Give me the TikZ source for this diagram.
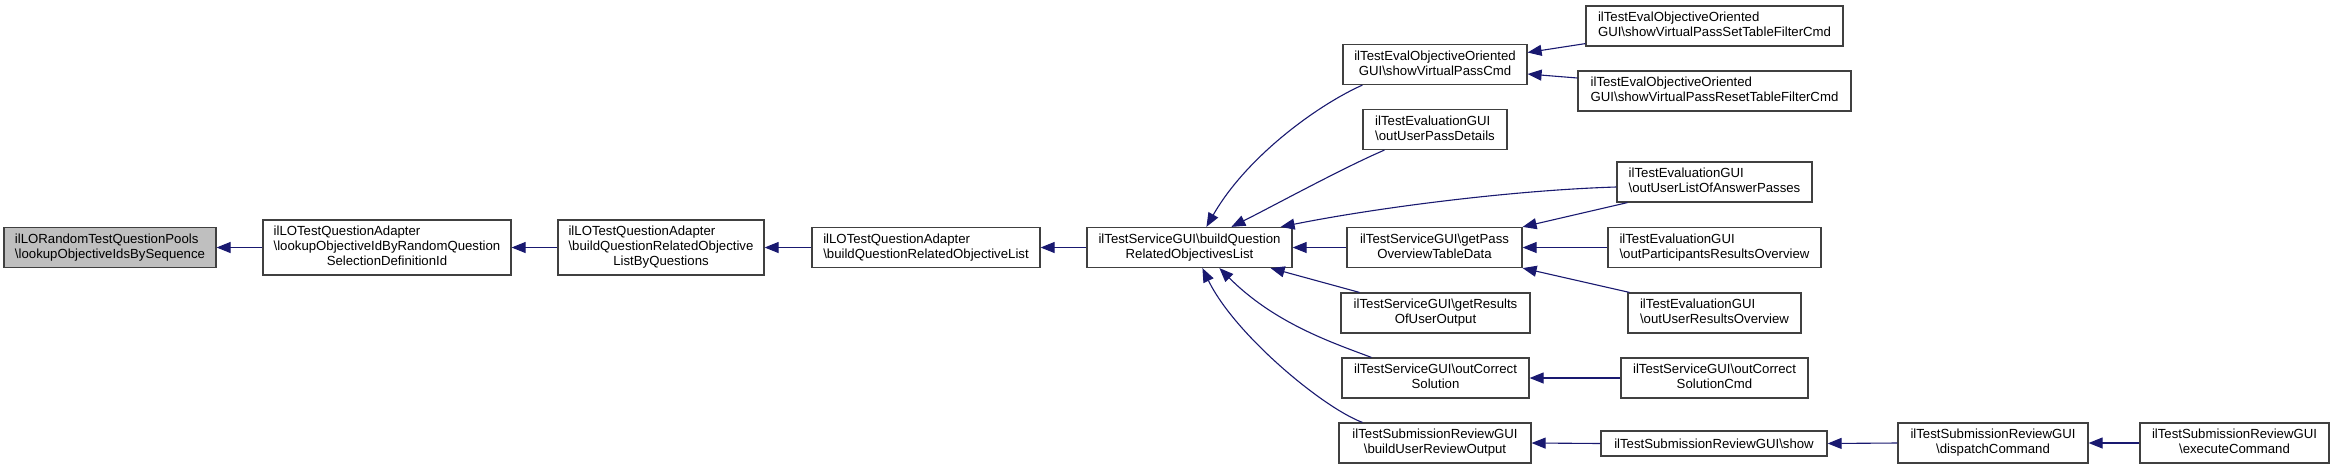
\documentclass[tikz,border=0pt]{standalone}
\usepackage{fontspec}
\setmainfont{Liberation Sans}
\usetikzlibrary{arrows.meta,calc}
\definecolor{edgeblue}{HTML}{191970}
\definecolor{boxline}{HTML}{404040}
\definecolor{nodegray}{HTML}{BFBFBF}
\newcommand\mybs{\textbackslash}
\newcommand\mytwo[2]{\begin{tabular}{@{}l@{}}#1\\\multicolumn{1}{@{}c@{}}{#2}\end{tabular}}
\newcommand\mythree[3]{\begin{tabular}{@{}l@{}}#1\\#2\\\multicolumn{1}{@{}c@{}}{#3}\end{tabular}}
\begin{document}
\begin{tikzpicture}[x=1pt,y=-1pt,
  box/.style={draw=boxline, line width=1.2pt, fill=white, inner sep=0pt,
    minimum height=40pt, font=\fontsize{13.2}{15}\selectfont},
  edge/.style={draw=edgeblue, line width=1.1pt, -{Triangle[length=14pt,width=11pt]}}]
\fill[white] (0,0) rectangle (2333,469);
\useasboundingbox (0,0) rectangle (2333,469);
% column 0-4
\node[box, fill=nodegray, minimum width=212pt] (n0) at (110,247.5) {\mytwo{ilLORandomTestQuestionPools}{\mybs lookupObjectiveIdsBySequence}};
\node[box, minimum width=248pt, minimum height=55pt] (n1) at (387,247.5) {\mythree{ilLOTestQuestionAdapter}{\mybs lookupObjectiveIdByRandomQuestion}{SelectionDefinitionId}};
\node[box, minimum width=206pt, minimum height=55pt] (n2) at (661,247.5) {\mythree{ilLOTestQuestionAdapter}{\mybs buildQuestionRelatedObjective}{ListByQuestions}};
\node[box, minimum width=228pt] (n3) at (926,247.5) {\mytwo{ilLOTestQuestionAdapter}{\mybs buildQuestionRelatedObjectiveList}};
\node[box, minimum width=205pt] (n4) at (1189.5,247.5) {\mytwo{ilTestServiceGUI\mybs buildQuestion}{RelatedObjectivesList}};
% column 5
\node[box, minimum width=184pt] (n5) at (1435,64.5) {\mytwo{ilTestEvalObjectiveOriented}{GUI\mybs showVirtualPassCmd}};
\node[box, minimum width=144pt] (n6) at (1435,129.5) {\mytwo{ilTestEvaluationGUI}{\mybs outUserPassDetails}};
\node[box, minimum width=175pt] (n7) at (1434.5,247.5) {\mytwo{ilTestServiceGUI\mybs getPass}{OverviewTableData}};
\node[box, minimum width=189pt] (n8) at (1435.5,313) {\mytwo{ilTestServiceGUI\mybs getResults}{OfUserOutput}};
\node[box, minimum width=187pt] (n9) at (1435.5,378) {\mytwo{ilTestServiceGUI\mybs outCorrect}{Solution}};
\node[box, minimum width=192pt] (n10) at (1435,443) {\mytwo{ilTestSubmissionReviewGUI}{\mybs buildUserReviewOutput}};
% column 6
\node[box, minimum width=257pt] (n11) at (1714.5,26) {\mytwo{ilTestEvalObjectiveOriented}{GUI\mybs showVirtualPassSetTableFilterCmd}};
\node[box, minimum width=273pt] (n12) at (1714.5,91) {\mytwo{ilTestEvalObjectiveOriented}{GUI\mybs showVirtualPassResetTableFilterCmd}};
\node[box, minimum width=195pt] (n13) at (1714.5,182) {\mytwo{ilTestEvaluationGUI}{\mybs outUserListOfAnswerPasses}};
\node[box, minimum width=213pt] (n14) at (1714.5,247.5) {\mytwo{ilTestEvaluationGUI}{\mybs outParticipantsResultsOverview}};
\node[box, minimum width=173pt] (n15) at (1714.5,313) {\mytwo{ilTestEvaluationGUI}{\mybs outUserResultsOverview}};
\node[box, minimum width=187pt] (n16) at (1714.5,378) {\mytwo{ilTestServiceGUI\mybs outCorrect}{SolutionCmd}};
\node[box, minimum width=226pt, minimum height=25pt] (n17) at (1714,443.5) {ilTestSubmissionReviewGUI\mybs show};
% columns 7-8
\node[box, minimum width=190pt] (n18) at (1993,443) {\mytwo{ilTestSubmissionReviewGUI}{\mybs dispatchCommand}};
\node[box, minimum width=189pt] (n19) at (2234.5,443) {\mytwo{ilTestSubmissionReviewGUI}{\mybs executeCommand}};
% edges
\draw[edge] (n1.west) -- (n0.east);
\draw[edge] (n2.west) -- (n1.east);
\draw[edge] (n3.west) -- (n2.east);
\draw[edge] (n4.west) -- (n3.east);
\draw[edge] ($(n5.south west)+(20,0)$) .. controls +(-45,20) and +(40,-70) .. ($(n4.north west)+(120,0)$);
\draw[edge] ($(n6.south west)+(22,0)$) .. controls +(-40,17) and +(40,-20) .. ($(n4.north west)+(145,0)$);
\draw[edge] ($(n13.west)+(0,5)$) .. controls +(-100,3) and +(100,-20) .. ($(n4.north east)+(-12,0)$);
\draw[edge] (n7.west) -- (n4.east);
\draw[edge] ($(n8.north west)+(19,0)$) -- ($(n4.south east)+(-22,0)$);
\draw[edge] ($(n9.north west)+(30,0)$) .. controls +(-40,-15) and +(55,55) .. ($(n4.south west)+(133,0)$);
\draw[edge] ($(n10.north west)+(24,0)$) .. controls +(-40,-15) and +(32,66) .. ($(n4.south west)+(116,0)$);
\draw[edge] ($(n11.south west)+(0,-3)$) -- ($(n5.east)+(0,-12)$);
\draw[edge] ($(n12.west)+(0,-13)$) -- ($(n5.east)+(0,9.5)$);
\draw[edge] ($(n13.south west)+(11,0)$) -- (n7.north east);
\draw[edge] (n14.west) -- (n7.east);
\draw[edge] ($(n15.north west)+(2,0)$) -- (n7.south east);
\draw[edge] (n16.west) -- (n9.east);
\draw[edge] (n17.west) -- (n10.east);
\draw[edge] (n18.west) -- (n17.east);
\draw[edge] (n19.west) -- (n18.east);
\end{tikzpicture}
\end{document}
